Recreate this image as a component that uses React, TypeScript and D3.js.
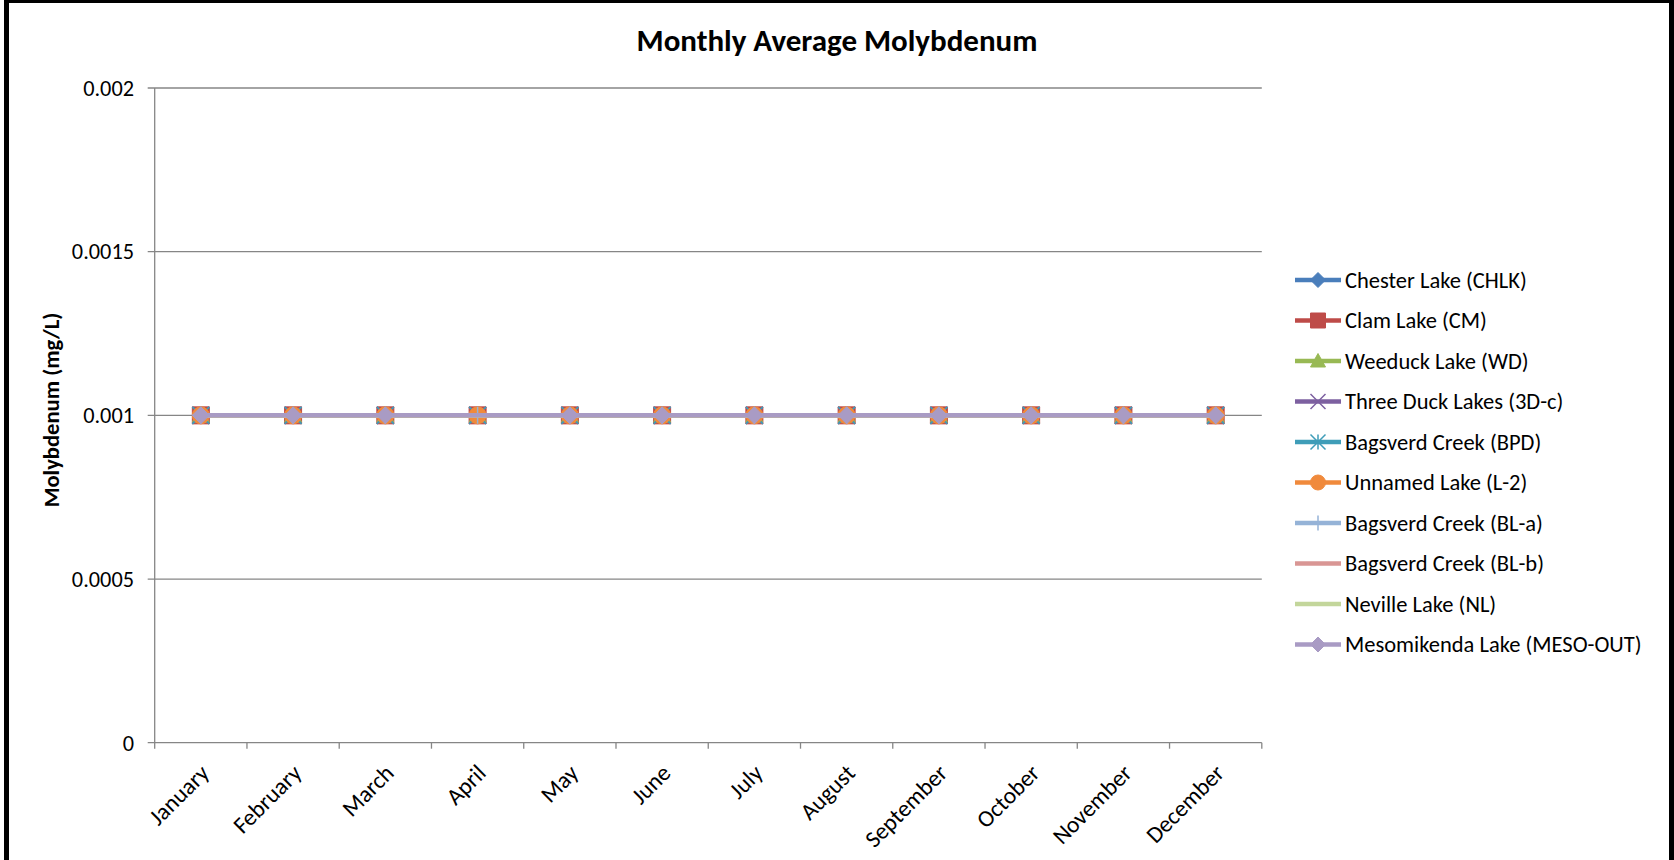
import React from "react";
import * as d3 from "d3";

const months = ["January","February","March","April","May","June","July","August","September","October","November","December"];
const yTicks = [0, 0.0005, 0.001, 0.0015, 0.002];
const yTickLabels = ["0", "0.0005", "0.001", "0.0015", "0.002"];

const seriesNames = [
  "Chester Lake (CHLK)",
  "Clam Lake (CM)",
  "Weeduck Lake (WD)",
  "Three Duck Lakes (3D-c)",
  "Bagsverd Creek (BPD)",
  "Unnamed Lake (L-2)",
  "Bagsverd Creek (BL-a)",
  "Bagsverd Creek (BL-b)",
  "Neville Lake (NL)",
  "Mesomikenda Lake (MESO-OUT)",
];

const chlk = [0.001,0.001,0.001,0.001,0.001,0.001,0.001,0.001,0.001,0.001,0.001,0.001];
const cm = [0.001,0.001,0.001,0.001,0.001,0.001,0.001,0.001,0.001,0.001,0.001,0.001];
const wd = [0.001,0.001,0.001,0.001,0.001,0.001,0.001,0.001,0.001,0.001,0.001,0.001];
const tdc = [0.001,0.001,0.001,0.001,0.001,0.001,0.001,0.001,0.001,0.001,0.001,0.001];
const bpd = [0.001,0.001,0.001,0.001,0.001,0.001,0.001,0.001,0.001,0.001,0.001,0.001];
const l2 = [0.001,0.001,0.001,0.001,0.001,0.001,0.001,0.001,0.001,0.001,0.001,0.001];
const bla = [0.001,0.001,0.001,0.001,0.001,0.001,0.001,0.001,0.001,0.001,0.001,0.001];
const blb = [0.001,0.001,0.001,0.001,0.001,0.001,0.001,0.001,0.001,0.001,0.001,0.001];
const nl = [0.001,0.001,0.001,0.001,0.001,0.001,0.001,0.001,0.001,0.001,0.001,0.001];
const meso: (number | null)[] = [0.001,0.001,0.001,null,0.001,0.001,0.001,0.001,0.001,0.001,0.001,0.001];

const seriesValues: (number | null)[][] = [chlk, cm, wd, tdc, bpd, l2, bla, blb, nl, meso];
const seriesColors = ["#4A7EBB","#BE4B48","#98B954","#7D60A0","#3F9DB8","#F08A3C","#95B3D7","#D99694","#C3D69B","#A99BC4"];
const seriesMarkers = ["diamond","square","triangle","x","star","circle","plus","none","none","diamond"];

const FONT = "Carlito, Calibri, Lato, sans-serif";
const AXIS = "#868686";

function markerPath(type: string, s: number): string {
  const r = s / 2;
  switch (type) {
    case "diamond": return `M0,${-r}L${r},0L0,${r}L${-r},0Z`;
    case "square": return `M${-r},${-r}H${r}V${r}H${-r}Z`;
    case "triangle": return `M0,${-r}L${r},${r * 0.8}L${-r},${r * 0.8}Z`;
    case "circle": return d3.arc()({ innerRadius: 0, outerRadius: r, startAngle: 0, endAngle: Math.PI * 2 }) as string;
    case "x": return `M${-r},${-r}L${r},${r}M${-r},${r}L${r},${-r}`;
    case "star": return `M${-r},${-r}L${r},${r}M${-r},${r}L${r},${-r}M0,${-r}V${r}`;
    case "plus": return `M${-r},0H${r}M0,${-r}V${r}`;
    default: return "";
  }
}

function Marker({ type, color, x, y, size }: { type: string; color: string; x: number; y: number; size: number }) {
  if (type === "none") return null;
  const stroked = type === "x" || type === "star" || type === "plus";
  return (
    <path
      d={markerPath(type, size)}
      transform={`translate(${x},${y})`}
      fill={stroked ? "none" : color}
      stroke={color}
      strokeWidth={stroked ? 1.5 : 1}
    />
  );
}

export default function App() {
  const W = 1674, H = 860;
  const left = 154.7, right = 1261.8, top = 88, bottom = 742.7;
  const x = d3.scaleBand<string>().domain(months).range([left, right]);
  const y = d3.scaleLinear().domain([0, 0.002]).range([bottom, top]);
  const cx = (m: string) => (x(m) as number) + x.bandwidth() / 2;

  const line = d3.line<{ m: string; v: number | null }>()
    .defined(d => d.v !== null)
    .x(d => cx(d.m))
    .y(d => y(d.v as number));

  const legendX = 1295, legendY0 = 280, legendStep = 40.5;
  const tickEdges = d3.range(months.length + 1).map(i => left + i * x.step());

  return (
    <svg width={W} height={H} style={{ position: "fixed", left: 0, top: 0, background: "#fff" }}>
      <rect x={0} y={0} width={W} height={H} fill="#fff" />
      {/* border */}
      <rect x={4} y={0} width={5} height={H} fill="#000" />
      <rect x={4} y={0} width={W - 4} height={3} fill="#000" />
      <rect x={1669} y={0} width={5} height={H} fill="#000" />

      <text x={837} y={51} textAnchor="middle" fontFamily={FONT} fontWeight="bold" fontSize={31} fill="#000">
        Monthly Average Molybdenum
      </text>

      {/* gridlines */}
      {yTicks.map((t, i) => (
        <g key={i}>
          <line x1={left - 7} x2={right} y1={y(t)} y2={y(t)} stroke={AXIS} strokeWidth={1.3} />
          <text x={134} y={y(t)} dy="0.35em" textAnchor="end" fontFamily={FONT} fontSize={22.3} fill="#000">
            {yTickLabels[i]}
          </text>
        </g>
      ))}
      <line x1={left} x2={left} y1={top} y2={bottom} stroke={AXIS} strokeWidth={1.3} />
      {tickEdges.map((tx, i) => (
        <line key={i} x1={tx} x2={tx} y1={bottom} y2={bottom + 6} stroke={AXIS} strokeWidth={1.3} />
      ))}
      {months.map((m) => (
        <text
          key={m}
          transform={`translate(${cx(m) + 4},${bottom + 26}) rotate(-45)`}
          textAnchor="end"
          dy="0.35em"
          fontFamily={FONT}
          fontSize={23.5}
          fill="#000"
        >
          {m}
        </text>
      ))}

      <text
        transform={`translate(59,410) rotate(-90)`}
        textAnchor="middle"
        fontFamily={FONT}
        fontWeight="bold"
        fontSize={22.6}
        fill="#000"
      >
        Molybdenum (mg/L)
      </text>

      {/* series */}
      {seriesValues.map((vals, si) => {
        const data = months.map((m, i) => ({ m, v: vals[i] }));
        return (
          <g key={si}>
            <path d={line(data.filter(d => d.v !== null)) as string} fill="none" stroke={seriesColors[si]} strokeWidth={4.5} strokeLinejoin="round" />
            {data.filter(d => d.v !== null).map((d, i) => (
              <Marker key={i} type={seriesMarkers[si]} color={seriesColors[si]} x={cx(d.m)} y={y(d.v as number)} size={17} />
            ))}
          </g>
        );
      })}

      {/* legend */}
      {seriesNames.map((name, i) => {
        const ly = legendY0 + i * legendStep;
        return (
          <g key={name}>
            <line x1={legendX} x2={legendX + 46} y1={ly} y2={ly} stroke={seriesColors[i]} strokeWidth={4.5} />
            <Marker type={seriesMarkers[i]} color={seriesColors[i]} x={legendX + 23} y={ly} size={15} />
            <text x={legendX + 50} y={ly} dy="0.35em" fontFamily={FONT} fontSize={22.5} fill="#000">
              {name}
            </text>
          </g>
        );
      })}
    </svg>
  );
}
